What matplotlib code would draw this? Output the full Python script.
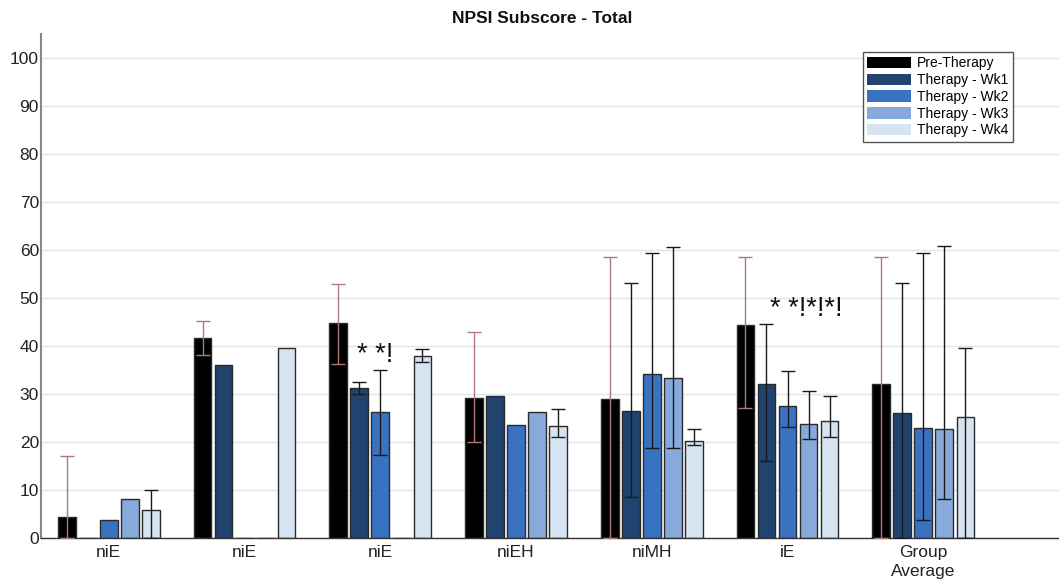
import numpy as np
import matplotlib
matplotlib.use('Agg')
import matplotlib.pyplot as plt
from matplotlib.patches import Patch

plt.rcParams['font.family'] = ['Liberation Sans', 'DejaVu Sans']

# ------------------------- DATA -------------------------

groups = ['niE', 'niE', 'niE', 'niEH', 'niMH', 'iE', 'Group\nAverage']
series = ['Pre-Therapy', 'Therapy - Wk1', 'Therapy - Wk2', 'Therapy - Wk3', 'Therapy - Wk4']
colors = ['#000000', '#20436f', '#3a72c2', '#88aadb', '#d6e3f1']

# mean score per group, one list per series
pre = [4.4, 41.7, 44.7, 29.1, 28.9, 44.4, 32.1]
wk1 = [0.0, 36.0, 31.2, 29.6, 26.5, 32.1, 26.0]
wk2 = [3.8, 0.0, 26.2, 23.5, 34.2, 27.6, 23.0]
wk3 = [8.1, 0.0, 0.0, 26.2, 33.3, 23.7, 22.8]
wk4 = [5.8, 39.6, 38.0, 23.4, 20.3, 24.4, 25.3]

# error bar ends (None = no error bar)
pre_hi = [17.1, 45.3, 52.9, 43.0, 58.5, 58.5, 58.6]
pre_lo = [0.0, 38.1, 36.2, 20.1, 0.0, 27.0, 0.0]
wk1_hi = [None, None, 32.4, None, 53.2, 44.6, 53.2]
wk1_lo = [None, None, 30.1, None, 8.6, 16.0, 0.0]
wk2_hi = [None, None, 35.1, None, 59.4, 34.7, 59.4]
wk2_lo = [None, None, 17.3, None, 18.7, 23.2, 3.8]
wk3_hi = [None, None, None, None, 60.7, 30.7, 60.8]
wk3_lo = [None, None, None, None, 18.7, 20.6, 8.2]
wk4_hi = [10.1, None, 39.3, 26.9, 22.8, 29.5, 39.6]
wk4_lo = [0.0, None, 36.7, 21.0, 19.3, 21.1, 0.0]

# significance markers: (group index, series offset, y, text)
sig_marks = [(2, 1.74, 38.2, '* *!'), (5, 2.9, 47.8, '* *!*!*!')]

values = [pre, wk1, wk2, wk3, wk4]
err_hi = [pre_hi, wk1_hi, wk2_hi, wk3_hi, wk4_hi]
err_lo = [pre_lo, wk1_lo, wk2_lo, wk3_lo, wk4_lo]

# ------------------------- PLOT -------------------------

fig = plt.figure(figsize=(10.59, 5.84), dpi=100)
ax = fig.add_axes([0.0387, 0.0788, 0.9613, 0.8630])

x = np.arange(len(groups))
pitch = 0.155
width = 0.13

for j, (vals, col) in enumerate(zip(values, colors)):
    xpos = x + (j - 2) * pitch
    ax.bar(xpos, vals, width=width, color=col, edgecolor='#2a2a2a',
           linewidth=1, zorder=2)

    ecol = '#b07878' if j == 0 else '#1a1a1a'
    for i in range(len(groups)):
        hi = err_hi[j][i]
        lo = err_lo[j][i]
        if hi is None:
            continue
        v = vals[i]
        ax.errorbar(xpos[i], v, yerr=[[v - lo], [hi - v]], fmt='none',
                    ecolor=ecol, elinewidth=1, capsize=4.7, capthick=1,
                    zorder=3)

for gi, off, yy, txt in sig_marks:
    ax.text(gi + (off - 2) * pitch, yy, txt, ha='center', va='center',
            fontsize=19.5, color='#111111', zorder=4)

ax.set_xlim(-0.5, 7.0)
ax.set_ylim(0, 105)
ax.set_yticks(range(0, 101, 10))
ax.set_xticks(x)
ax.set_xticklabels(groups, linespacing=1.35)
ax.tick_params(axis='both', length=0, labelsize=12.5, labelcolor='#222222')
ax.tick_params(axis='y', pad=1.5)
ax.tick_params(axis='x', pad=5)

ax.yaxis.grid(True, color='#e4e4e4', linewidth=1, zorder=0)
ax.set_axisbelow(True)

for s in ['top', 'right']:
    ax.spines[s].set_visible(False)
ax.spines['left'].set_color('#888888')
ax.spines['left'].set_linewidth(1.5)
ax.spines['bottom'].set_color('#333333')
ax.spines['bottom'].set_linewidth(1)

fig.text(0.512, 0.968, 'NPSI Subscore - Total', ha='center', va='center',
         fontsize=12.5, fontweight='bold', color='#111111')

handles = [Patch(facecolor=c, edgecolor='none') for c in colors]
leg = ax.legend(handles, series, loc='upper right',
                bbox_to_anchor=(0.9545, 0.964), fontsize=10,
                handlelength=3.2, handleheight=0.9, labelspacing=0.2,
                handletextpad=0.4, borderpad=0.3, fancybox=False,
                framealpha=1, borderaxespad=0)
leg.get_frame().set_edgecolor('#555555')
leg.get_frame().set_linewidth(1)

fig.savefig('out.png', dpi=100)
